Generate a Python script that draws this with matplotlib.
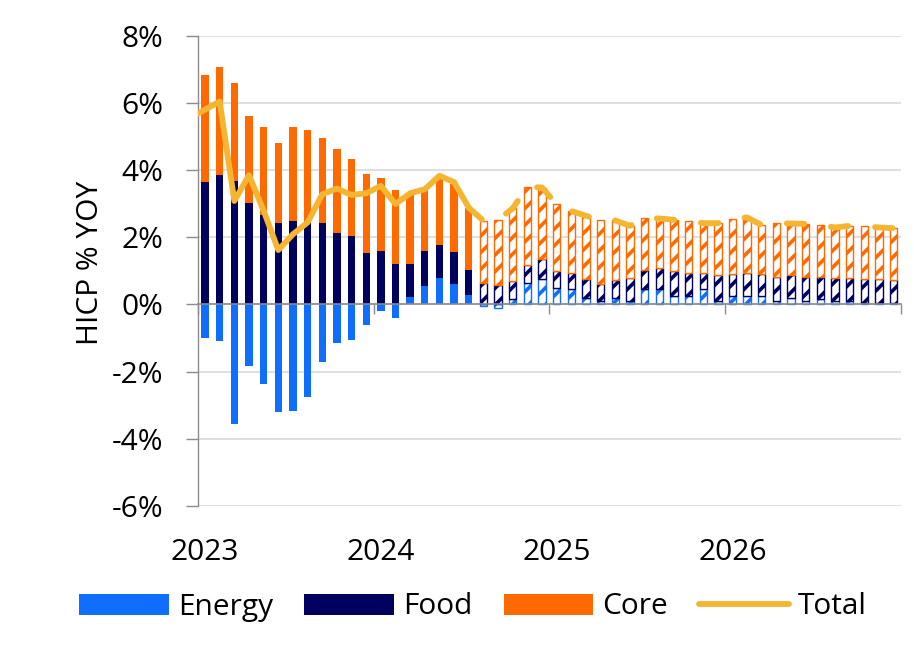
import matplotlib
matplotlib.use("Agg")
import matplotlib.pyplot as plt
import matplotlib.transforms as mtransforms
from matplotlib.patches import Patch
from matplotlib.lines import Line2D
import numpy as np

# ---------------- data ----------------
years = ["2023", "2024", "2025", "2026"]
n_months = 48          # Jan 2023 .. Dec 2026
n_actual = 19          # Jan 2023 .. Jul 2024 are outturns, rest is forecast

energy = [-0.99, -1.10, -3.55, -1.84, -2.36, -3.21, -3.16, -2.77, -1.70, -1.16,
          -1.07, -0.62, -0.21, -0.40, 0.22, 0.55, 0.78, 0.60, 0.27,
          -0.05, -0.12, 0.17, 0.63, 0.75, 0.50, 0.45, 0.20, 0.10, 0.20,
          0.10, 0.45, 0.47, 0.25, 0.25, 0.45, 0.10, 0.25, 0.25, 0.25,
          0.10, 0.20, 0.10, 0.15, 0.10, 0.10, 0.05, 0.05, 0.05]
food = [3.65, 3.86, 3.68, 3.01, 2.65, 2.41, 2.49, 2.42, 2.41, 2.14,
        2.04, 1.52, 1.59, 1.21, 0.99, 1.04, 0.98, 0.96, 0.75,
        0.65, 0.57, 0.53, 0.53, 0.61, 0.49, 0.50, 0.57, 0.50, 0.52,
        0.68, 0.59, 0.62, 0.74, 0.68, 0.48, 0.77, 0.65, 0.68, 0.65,
        0.73, 0.67, 0.73, 0.68, 0.70, 0.68, 0.72, 0.72, 0.68]
core = [3.19, 3.21, 2.91, 2.61, 2.62, 2.39, 2.78, 2.77, 2.54, 2.49,
        2.29, 2.36, 2.17, 2.19, 2.04, 1.81, 2.04, 2.04, 1.86,
        1.84, 1.95, 2.16, 2.34, 2.12, 1.99, 1.83, 1.87, 1.90, 1.78,
        1.56, 1.52, 1.47, 1.53, 1.55, 1.49, 1.55, 1.65, 1.66, 1.46,
        1.59, 1.54, 1.57, 1.54, 1.49, 1.56, 1.56, 1.52, 1.54]
# headline HICP, first value is Dec 2022 (only its segment into Jan 2023 is visible)
total = [5.55,
         5.80, 6.04, 3.08, 3.85, 2.79, 1.62, 2.09, 2.44, 3.28, 3.45,
         3.26, 3.31, 3.53, 2.99, 3.31, 3.43, 3.83, 3.64, 2.88,
         2.49, 2.52, 2.86, 3.50, 3.48, 2.98, 2.78, 2.64, 2.50, 2.50,
         2.34, 2.56, 2.56, 2.52, 2.48, 2.42, 2.42, 2.55, 2.59, 2.36,
         2.42, 2.41, 2.40, 2.37, 2.29, 2.34, 2.33, 2.29, 2.27]
yticks = [-6, -4, -2, 0, 2, 4, 6, 8]
ytick_labels = ["-6%", "-4%", "-2%", "0%", "2%", "4%", "6%", "8%"]

# ---------------- style ----------------
C_EN = "#0F6EFB"
C_FO = "#00005F"
C_CO = "#FF6A00"
C_TO = "#F5B531"
FONT = "Open Sans"
FS = 21.5
plt.rcParams["font.family"] = [FONT, "DejaVu Sans"]
plt.rcParams["hatch.linewidth"] = 2.6

fig = plt.figure(figsize=(9.14, 6.49), dpi=100)
ax = fig.add_axes([197.7 / 914, 1 - 506 / 649, (901 - 197.7) / 914, (506 - 35.7) / 649])

x = np.arange(n_months)
en = np.array(energy)
fo = np.array(food)
co = np.array(core)
pos_en = np.clip(en, 0, None)
w = 0.5

A = slice(0, n_actual)
F = slice(n_actual, n_months)

# actual bars (solid)
ax.bar(x[A], en[A], w, color=C_EN, zorder=2)
ax.bar(x[A], fo[A], w, bottom=pos_en[A], color=C_FO, zorder=2)
ax.bar(x[A], co[A], w, bottom=pos_en[A] + fo[A], color=C_CO, zorder=2)

# forecast bars (patterned)
for vals, bot, col in [(en[F], np.zeros(n_months - n_actual), C_EN),
                       (fo[F], pos_en[F], C_FO),
                       (co[F], pos_en[F] + fo[F], C_CO)]:
    ax.bar(x[F], vals, w, bottom=bot, facecolor="white", edgecolor=col,
           hatch="//", linewidth=1.0, zorder=2)

# total line: solid for outturns, dashed for forecast
xt = np.arange(-1, n_months)
tt = np.array(total)
ax.plot(xt[:n_actual + 1], tt[:n_actual + 1], color=C_TO, lw=4.2,
        solid_capstyle="round", solid_joinstyle="round", zorder=4)
ax.plot(xt[n_actual:], tt[n_actual:], color=C_TO, lw=4.2,
        dashes=(3.0, 4.6), dash_capstyle="round", dash_joinstyle="round", zorder=4)

# axes
ax.set_xlim(-0.5, n_months - 0.5)
ax.set_ylim(-6, 8)
ax.set_yticks(yticks)
ax.set_yticklabels(ytick_labels, fontsize=FS)
ax.grid(axis="y", color="#D9D9D9", lw=1.2, zorder=0)
ax.set_axisbelow(True)
for s in ["top", "right"]:
    ax.spines[s].set_visible(False)
ax.spines["left"].set_color("#8C8C8C")
ax.spines["left"].set_linewidth(1.0)
ax.spines["bottom"].set_position(("data", 0))
ax.spines["bottom"].set_color("#8C8C8C")
ax.spines["bottom"].set_linewidth(1.2)
ax.spines["bottom"].set_zorder(3)
ax.tick_params(axis="y", length=9, width=1.0, color="#8C8C8C", pad=16)
ax.set_xticks(np.arange(-0.5, n_months, 12))
ax.set_xticklabels([])
ax.tick_params(axis="x", length=7.5, width=1.0, color="#8C8C8C", direction="out")

trans = mtransforms.blended_transform_factory(ax.transData, fig.transFigure)
for k, yr in enumerate(years):
    ax.text(12 * k, 1 - 553 / 649, yr, transform=trans, ha="center", va="center",
            fontsize=FS, clip_on=False)

fig.text(90 / 914, 1 - 263 / 649, "HICP % YOY", rotation=90, ha="center",
         va="center", fontsize=FS)

handles = [Patch(facecolor=C_EN, edgecolor="none"),
           Patch(facecolor=C_FO, edgecolor="none"),
           Patch(facecolor=C_CO, edgecolor="none"),
           Line2D([], [], color=C_TO, lw=4.2, solid_capstyle="round")]
fig.legend(handles, ["Energy", "Food", "Core", "Total"], loc="center",
           bbox_to_anchor=(473 / 914, 1 - 607 / 649), ncol=4, frameon=False,
           fontsize=FS, handlelength=3.0, handleheight=0.7, handletextpad=0.3,
           columnspacing=1.05)

fig.savefig("out.png", dpi=100)
